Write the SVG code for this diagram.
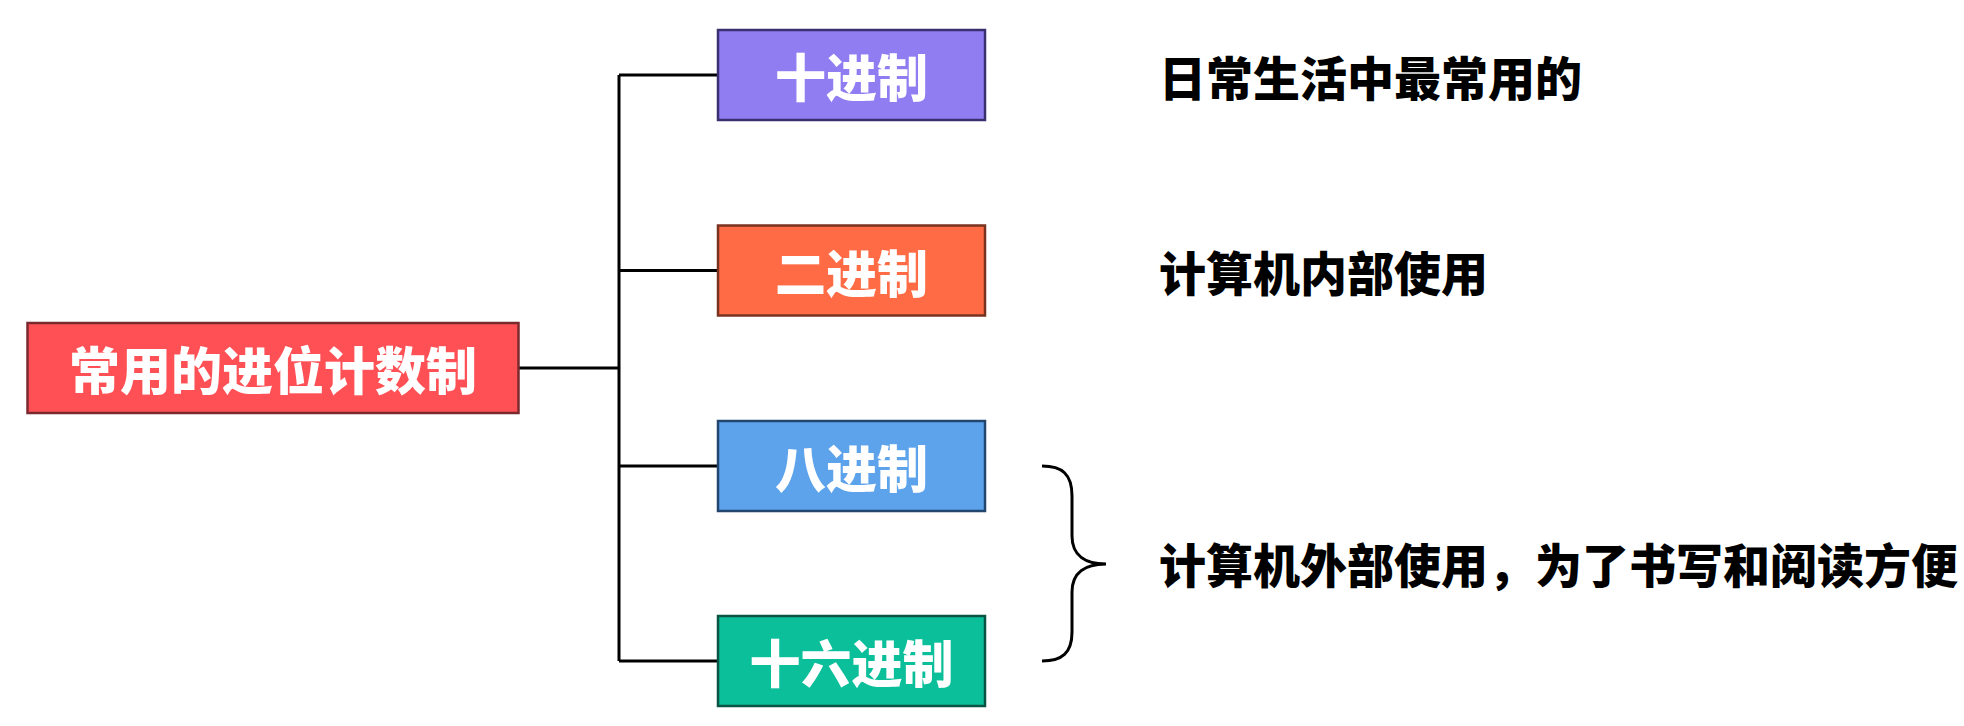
<svg xmlns="http://www.w3.org/2000/svg" width="1964" height="726" viewBox="0 0 1964 726">
<style>
.box{stroke-width:2.5}
.bt{font-family:"Noto Sans CJK SC","Noto Sans",sans-serif;font-weight:900;fill:#fff;font-size:51px;text-anchor:middle;dominant-baseline:central}
.nt{font-family:"Noto Sans CJK SC","Noto Sans",sans-serif;font-weight:900;fill:#000;font-size:47px;dominant-baseline:central}
.ln{fill:none;stroke:#000;stroke-width:3}
</style>
<rect width="1964" height="726" fill="#fff"/>
<g id="connectors">
<path class="ln" d="M518 368 H619 M619 75 V661 M619 75 H718 M619 270.5 H718 M619 466 H718 M619 661 H718"/>
<path class="ln" d="M1042 466 C1062 466 1072 474 1072 496 V536 C1072 556 1086 564 1106 564 C1086 564 1072 572 1072 592 V632 C1072 653 1062 661 1042 661"/>
</g>
<g id="root">
<rect class="box" x="27.5" y="323" width="491" height="90" fill="#FF5055" stroke="#7a2a2e"/>
<text class="bt" x="273" y="368" font-size="54">常用的进位计数制</text>
</g>
<g id="n10">
<rect class="box" x="718" y="30" width="267" height="90" fill="#907DF2" stroke="#3a3070"/>
<text class="bt" x="851.5" y="75">十进制</text>
</g>
<g id="n2">
<rect class="box" x="718" y="225.5" width="267" height="90" fill="#FF6B45" stroke="#7a3220"/>
<text class="bt" x="851.5" y="270.5">二进制</text>
</g>
<g id="n8">
<rect class="box" x="718" y="421" width="267" height="90" fill="#5CA3EC" stroke="#22466e"/>
<text class="bt" x="851.5" y="466">八进制</text>
</g>
<g id="n16">
<rect class="box" x="718" y="616" width="267" height="90" fill="#0BBF9A" stroke="#0a5444"/>
<text class="bt" x="851.5" y="661">十六进制</text>
</g>
<g id="notes">
<text class="nt" x="1159" y="75">日常生活中最常用的</text>
<text class="nt" x="1159" y="270.5">计算机内部使用</text>
<text class="nt" x="1159" y="562">计算机外部使用，为了书写和阅读方便</text>
</g>
</svg>
